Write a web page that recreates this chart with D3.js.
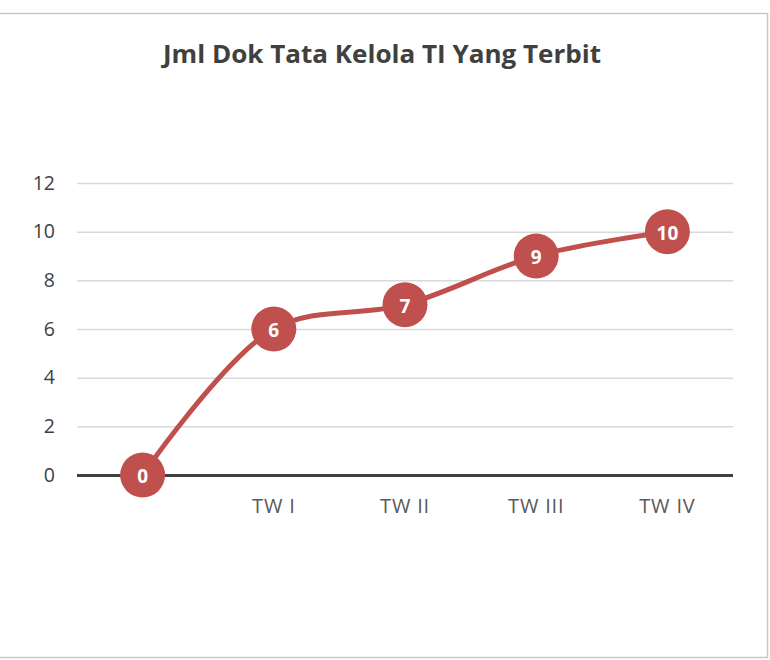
<!DOCTYPE html>
<html><head><meta charset="utf-8">
<script src="https://cdn.jsdelivr.net/npm/d3@7"></script>
<style>html,body{margin:0;padding:0;background:#fff;}svg{display:block;}</style>
</head><body>
<script>
const title = "Jml Dok Tata Kelola TI Yang Terbit";
const categories = ["", "TW I", "TW II", "TW III", "TW IV"];
const values = [0, 6, 7, 9, 10];
const yTicks = [0, 2, 4, 6, 8, 10, 12];

const W = 770, H = 660;
const svg = d3.select("body").append("svg").attr("width", W).attr("height", H);
svg.append("rect").attr("width", W).attr("height", H).attr("fill", "#fff");
// frame
svg.append("path").attr("d", `M0,13.5H767.5V657.5H0`).attr("fill", "none").attr("stroke", "#c8c8c8").attr("stroke-width", 1.5);

const x = d3.scaleBand().domain(d3.range(categories.length)).range([77, 733]);
const y = d3.scaleLinear().domain([0, 12]).range([475, 183]);
const font = "'Open Sans', 'Noto Sans', sans-serif";

svg.append("text").attr("x", 382).attr("y", 63).attr("text-anchor", "middle")
  .attr("font-family", font).attr("font-weight", "bold").attr("font-size", 25.5)
  .attr("fill", "#404040").attr("textLength", 438).attr("lengthAdjust", "spacingAndGlyphs").text(title);

const yAxis = d3.axisLeft(y).tickValues(yTicks).tickSize(-(733 - 77)).tickPadding(22);
const gy = svg.append("g").attr("transform", "translate(77,0)").call(yAxis);
gy.select(".domain").remove();
gy.selectAll(".tick line").attr("stroke", "#d9d9d9").attr("stroke-width", 1.5);
gy.selectAll(".tick text").attr("font-family", font).attr("font-size", 19.5).attr("fill", "#404040");
gy.selectAll(".tick").filter(d => d === 0).select("line").attr("stroke", "#404040").attr("stroke-width", 3);

const xAxis = d3.axisBottom(x).tickFormat(i => categories[i]).tickSize(0).tickPadding(24);
const gx = svg.append("g").attr("transform", "translate(0,475)").call(xAxis);
gx.select(".domain").remove();
gx.selectAll(".tick text").attr("font-family", font).attr("font-size", 20).attr("fill", "#595959")
  .attr("letter-spacing", 0.8);

const cx = i => x(i) + x.bandwidth() / 2;
const line = d3.line().x((d, i) => cx(i)).y(d => y(d)).curve(d3.curveCatmullRom.alpha(0.5));
svg.append("path").datum(values).attr("d", line).attr("fill", "none")
  .attr("stroke", "#c0504d").attr("stroke-width", 5).attr("stroke-linecap", "round");

const pts = svg.append("g").selectAll("g").data(values).join("g")
  .attr("transform", (d, i) => `translate(${cx(i)},${y(d)})`);
pts.append("circle").attr("r", 22.5).attr("fill", "#c0504d");
pts.append("text").attr("text-anchor", "middle").attr("dy", "0.44em")
  .attr("font-family", font).attr("font-weight", "bold").attr("font-size", 19)
  .attr("fill", "#fff").text(d => d);
</script>
</body></html>
